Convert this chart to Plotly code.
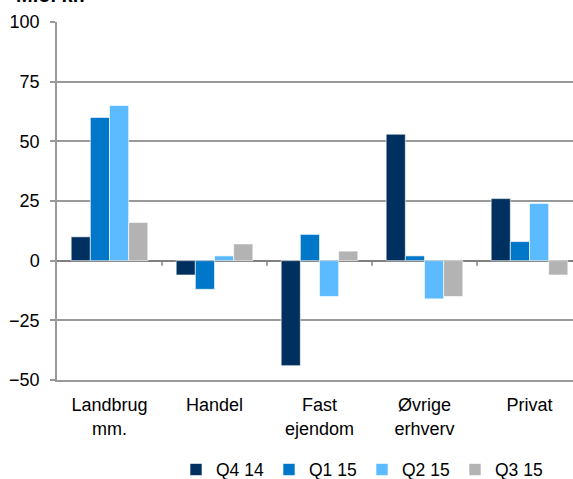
import plotly.graph_objects as go

categories = ["Landbrug<br>mm.", "Handel", "Fast<br>ejendom", "Øvrige<br>erhverv", "Privat"]
series_names = ["Q4 14", "Q1 15", "Q2 15", "Q3 15"]
q4_14 = [10, -6, -44, 53, 26]
q1_15 = [60, -12, 11, 2, 8]
q2_15 = [65, 2, -15, -16, 24]
q3_15 = [16, 7, 4, -15, -6]
y_ticks = [-50, -25, 0, 25, 50, 75, 100]
title_text = "Mio. kr."

colors = ["#00305F", "#0077C8", "#5CBBFF", "#B3B3B3"]
values = [q4_14, q1_15, q2_15, q3_15]

fig = go.Figure()
for name, vals, col in zip(series_names, values, colors):
    fig.add_trace(go.Bar(
        x=categories, y=vals, name=name,
        marker=dict(color=col, line=dict(color="rgba(255,255,255,0.6)", width=1)),
    ))

# category boundary tick marks on the zero line
for i in range(len(categories) - 1):
    fig.add_shape(type="line", xref="x", yref="y", x0=i + 0.5, x1=i + 0.5,
                  ysizemode="pixel", yanchor=0, y0=0, y1=-5,
                  line=dict(color="#808080", width=1.5))

fig.add_annotation(text="<b>" + title_text + "</b>", xref="paper", yref="paper",
                   x=-43 / 516, y=1, xanchor="left", yanchor="bottom", yshift=14,
                   showarrow=False, font=dict(size=20, color="black"))

fig.update_layout(
    width=573, height=479,
    margin=dict(l=57, r=0, t=22, b=99, autoexpand=False),
    plot_bgcolor="white", paper_bgcolor="white",
    font=dict(family="Liberation Sans, Arial, sans-serif", size=18, color="black"),
    barmode="group", bargap=0.27, bargroupgap=0,
    showlegend=True,
    legend=dict(orientation="h", x=(176 - 57) / 516, xanchor="left", y=-0.2, yanchor="top",
                font=dict(size=17.5), traceorder="normal", entrywidth=48,
                entrywidthmode="pixels"),
)
fig.update_xaxes(
    range=[-0.5, 4.5 - 9 / 105], showgrid=False, showline=True, linecolor="#999999",
    linewidth=1.5, ticks="", ticklabelstandoff=8, zeroline=False, automargin=False,
)
fig.update_yaxes(
    range=[-50, 100], tickvals=y_ticks, showgrid=True, gridcolor="#999999", gridwidth=1.5,
    zeroline=True, zerolinecolor="#808080", zerolinewidth=2,
    showline=True, linecolor="#999999", linewidth=1.5,
    ticks="outside", ticklen=5, tickcolor="#999999", tickwidth=1.5,
    ticklabelstandoff=7, automargin=False,
)

fig.write_html("out.html", config={"displayModeBar": False},
               post_script="document.body.style.margin='0px';document.body.style.overflow='hidden';")
